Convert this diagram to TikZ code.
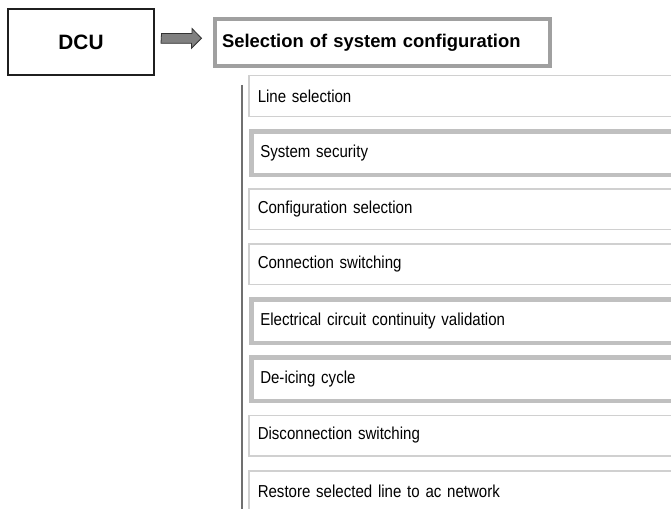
\documentclass[tikz,border=0pt]{standalone}
\usepackage{fontspec}
\setmainfont{Liberation Sans}
\newfontfamily\narrowfont{Liberation Sans}[FakeStretch=0.87]
\newcommand\myitemfont{\narrowfont\fontsize{17.3pt}{19pt}\selectfont\spaceskip=3.6pt plus 1pt\relax}
\definecolor{thinc}{HTML}{D0D0D0}
\definecolor{thickc}{HTML}{C0C0C0}
\definecolor{selc}{HTML}{A0A0A0}
\definecolor{vline}{HTML}{707070}
\definecolor{arrfill}{HTML}{808080}
\tikzset{
  itembox/.style={anchor=west, rectangle, draw=thinc, line width=1.5pt,
    text width=430pt, align=left, inner xsep=9pt, inner ysep=0pt,
    font=\myitemfont, minimum height=40.5pt},
  itemthick/.style={itembox, draw=thickc, line width=4.5pt, minimum height=43.5pt},
  dcubox/.style={rectangle, draw=black!88, line width=2pt, minimum width=146pt,
    minimum height=66pt, font=\bfseries\fontsize{20.8pt}{24pt}\selectfont},
  selbox/.style={rectangle, draw=selc, line width=4pt, text width=321pt,
    align=left, inner xsep=7pt, minimum height=47pt,
    font=\bfseries\fontsize{18.4pt}{21pt}\selectfont},
  bigarrow/.style={draw=black!80, fill=arrfill, line width=0.8pt, line join=miter}
}
\begin{document}
\begin{tikzpicture}[x=1pt,y=-1pt]
\fill[white] (0,0) rectangle (671,508);
\useasboundingbox (0,0) rectangle (671,508);
\clip (0,0) rectangle (671,508);
\node[dcubox] (dcu) at (81,42) {DCU};
\node[selbox] (sel) at (382.5,42.5) {Selection of system configuration};
\coordinate (as) at (161.5,38.3);
\coordinate (ae) at (201.5,38.3);
\draw[bigarrow] (as) ++(0,-4.8) -- ++(30.5,0) -- ++(0,-5) -- (ae) -- ++(-10,10) -- ++(0,-5) -- ++(-30.5,0) -- cycle;
\coordinate (vtop) at (242,85);
\coordinate (vbot) at (242,510);
\draw[vline, line width=2pt] (vtop) -- (vbot);
\node[itembox]   (i1) at (248,96)    {Line selection};
\node[itemthick] (i2) at (249,153)   {System security};
\node[itembox]   (i3) at (248,209)   {Configuration selection};
\node[itembox]   (i4) at (248,264)   {Connection switching};
\node[itemthick] (i5) at (249,321)   {Electrical circuit continuity validation};
\node[itemthick] (i6) at (249,379)   {De-icing cycle};
\node[itembox]   (i7) at (248,435.5) {Disconnection switching};
\node[itembox]   (i8) at (248,491)   {Restore selected line to ac network};
\end{tikzpicture}
\end{document}
